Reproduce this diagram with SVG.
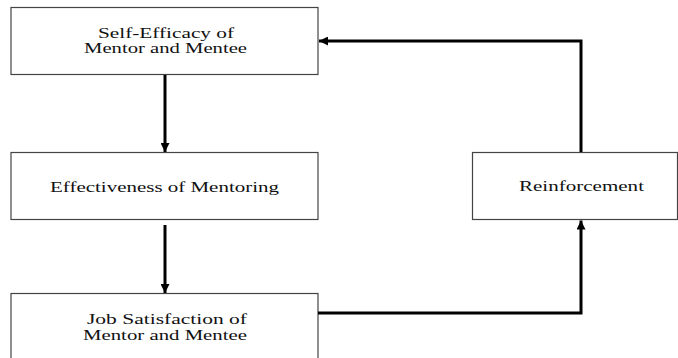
<svg xmlns="http://www.w3.org/2000/svg" width="678" height="358" viewBox="0 0 678 358">
<style>
.box{fill:#fff;stroke:#444;stroke-width:1.2}
.c{fill:none;stroke:#000;stroke-width:3}
</style>
<defs>
<marker id="ah" viewBox="0 0 10 10" refX="10" refY="5" markerWidth="3" markerHeight="3" markerUnits="strokeWidth" orient="auto">
<path d="M0,0 L10,5 L0,10 z" fill="#000"/>
</marker>
</defs>
<rect width="678" height="358" fill="#fff"/>
<g font-family="Liberation Serif, Times New Roman, serif" font-size="14.5" fill="#111" text-anchor="middle">
<g id="n1">
<rect class="box" x="11" y="7.5" width="307" height="67"/>
<text x="166" y="38" textLength="136" lengthAdjust="spacingAndGlyphs">Self-Efficacy of</text>
<text x="165.5" y="53" textLength="163" lengthAdjust="spacingAndGlyphs">Mentor and Mentee</text>
</g>
<g id="n2">
<rect class="box" x="11" y="152.5" width="307" height="67"/>
<text x="164.5" y="192" textLength="229" lengthAdjust="spacingAndGlyphs">Effectiveness of Mentoring</text>
</g>
<g id="n3">
<rect class="box" x="11" y="293.5" width="307" height="80"/>
<text x="167" y="324" textLength="160" lengthAdjust="spacingAndGlyphs">Job Satisfaction of</text>
<text x="165" y="340" textLength="164" lengthAdjust="spacingAndGlyphs">Mentor and Mentee</text>
</g>
<g id="n4">
<rect class="box" x="472.5" y="152.5" width="205" height="67"/>
<text x="581.5" y="191" textLength="125" lengthAdjust="spacingAndGlyphs">Reinforcement</text>
</g>
</g>
<g id="connectors">
<path class="c" d="M165,75 L165,152" marker-end="url(#ah)"/>
<path class="c" d="M165,225 L165,293" marker-end="url(#ah)"/>
<path class="c" d="M318,313 L581,313 L581,220.5" marker-end="url(#ah)"/>
<path class="c" d="M581,152 L581,41 L319,41" marker-end="url(#ah)"/>
</g>
</svg>
